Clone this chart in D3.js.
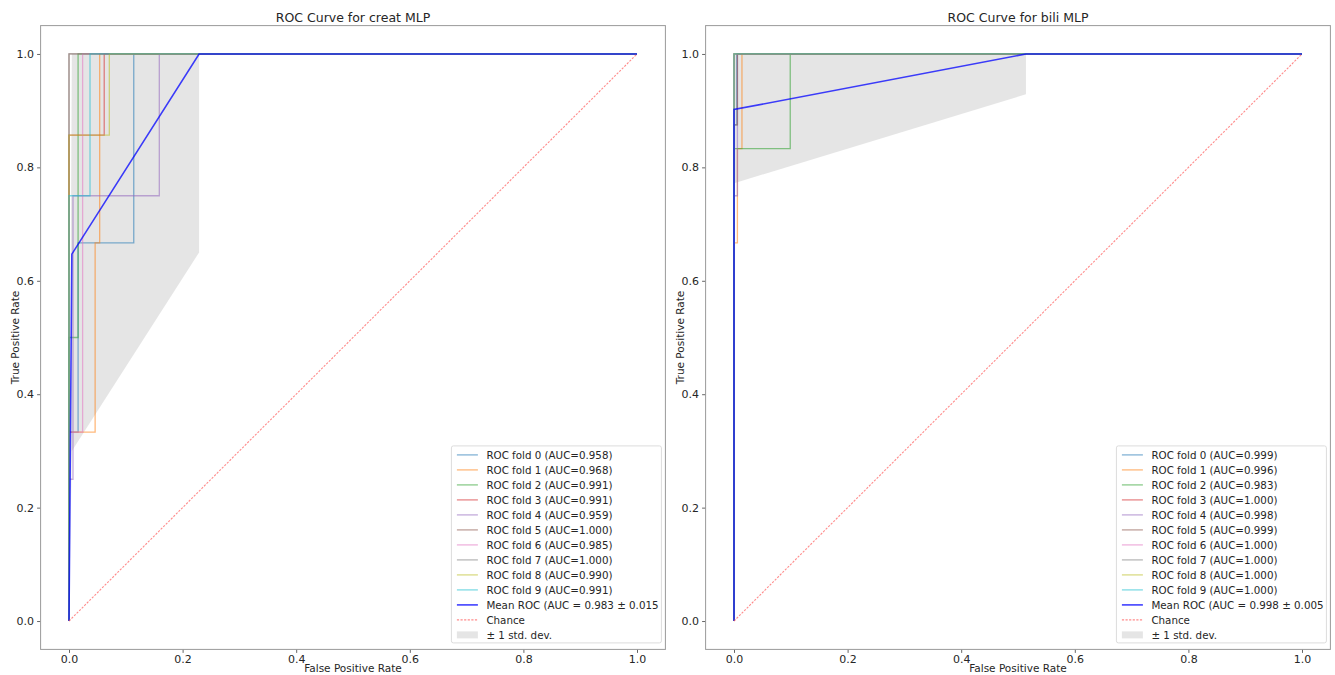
<!DOCTYPE html>
<html>
<head>
<meta charset="utf-8">
<script src="https://cdn.jsdelivr.net/npm/d3@7"></script>
<style>
body { margin: 0; background: #fff; }
text { font-family: "DejaVu Sans", sans-serif; fill: #262626; }
</style>
</head>
<body>
<svg width="1335" height="675"></svg>
<script>
// values

var foldNames = ["ROC fold 0", "ROC fold 1", "ROC fold 2", "ROC fold 3", "ROC fold 4",
                 "ROC fold 5", "ROC fold 6", "ROC fold 7", "ROC fold 8", "ROC fold 9"];
var tickValues = [0.0, 0.2, 0.4, 0.6, 0.8, 1.0];

// creat MLP
var creatAuc = ["0.958", "0.968", "0.991", "0.991", "0.959", "1.000", "0.985", "1.000", "0.990", "0.991"];
var creatFpr = [
    [0, 0, 0.016, 0.016, 0.114, 0.114, 1],
    [0, 0, 0.046, 0.046, 0.054, 0.054, 1],
    [0, 0, 0.016, 0.016, 1],
    [0, 0, 0.062, 0.062, 1],
    [0, 0, 0.007, 0.007, 0.159, 0.159, 1],
    [0, 0, 1],
    [0, 0, 0.024, 0.024, 1],
    [0, 0, 1],
    [0, 0, 0.071, 0.071, 1],
    [0, 0, 0.037, 0.037, 1]
];
var creatTpr = [
    [0, 0.333, 0.333, 0.667, 0.667, 1, 1],
    [0, 0.333, 0.333, 0.667, 0.667, 1, 1],
    [0, 0.5, 0.5, 1, 1],
    [0, 0.857, 0.857, 1, 1],
    [0, 0.25, 0.25, 0.75, 0.75, 1, 1],
    [0, 1, 1],
    [0, 0.333, 0.333, 1, 1],
    [0, 1, 1],
    [0, 0.857, 0.857, 1, 1],
    [0, 0.75, 0.75, 1, 1]
];
var creatMeanFpr = [0, 0.005, 0.229, 1];
var creatMeanTpr = [0, 0.647, 1, 1];
var creatMeanAuc = "0.983 \u00b1 0.015";
var creatBandFpr = [0, 0.005, 0.229];
var creatBandLow = [0, 0.30, 0.65];
var creatBandHigh = [0, 1, 1];

// bili MLP
var biliAuc = ["0.999", "0.996", "0.983", "1.000", "0.998", "0.999", "1.000", "1.000", "1.000", "1.000"];
var biliFpr = [
    [0, 0, 0.005, 0.005, 1],
    [0, 0, 0.006, 0.006, 0.014, 0.014, 1],
    [0, 0, 0.099, 0.099, 1],
    [0, 0, 1],
    [0, 0, 0.006, 0.006, 1],
    [0, 0, 0.006, 0.006, 1],
    [0, 0, 1],
    [0, 0, 1],
    [0, 0, 1],
    [0, 0, 1]
];
var biliTpr = [
    [0, 0.875, 0.875, 1, 1],
    [0, 0.667, 0.667, 0.833, 0.833, 1, 1],
    [0, 0.833, 0.833, 1, 1],
    [0, 1, 1],
    [0, 0.75, 0.75, 1, 1],
    [0, 0.875, 0.875, 1, 1],
    [0, 1, 1],
    [0, 1, 1],
    [0, 1, 1],
    [0, 1, 1]
];
var biliMeanFpr = [0, 0, 0.514, 1];
var biliMeanTpr = [0, 0.902, 1, 1];
var biliMeanAuc = "0.998 \u00b1 0.005";
var biliBandFpr = [0, 0.514];
var biliBandLow = [0.772, 0.929];
var biliBandHigh = [1, 1];

var svg = d3.select("svg");
var colors = d3.schemeCategory10;
var chanceColor = "#ff5a5a";

function drawPanel(p) {
    var x = d3.scaleLinear().domain([-0.05, 1.05]).range([p.left, p.left + 624.8]);
    var y = d3.scaleLinear().domain([-0.05, 1.05]).range([649.4, 25.6]);
    var g = svg.append("g");

    var line = d3.line()
        .x(function (d) { return x(d[0]); })
        .y(function (d) { return y(d[1]); });

    // std band first, it sits under the lines
    var area = d3.area()
        .x(function (d) { return x(d[0]); })
        .y0(function (d) { return y(d[1]); })
        .y1(function (d) { return y(d[2]); });
    g.append("path")
        .datum(d3.zip(p.bandFpr, p.bandLow, p.bandHigh))
        .attr("d", area)
        .attr("fill", "#cccccc")
        .attr("fill-opacity", 0.5);

    g.append("g")
        .selectAll("path")
        .data(p.fpr)
        .enter().append("path")
        .attr("d", function (d, i) { return line(d3.zip(d, p.tpr[i])); })
        .attr("fill", "none")
        .attr("stroke", function (d, i) { return colors[i]; })
        .attr("stroke-opacity", 0.55)
        .attr("stroke-width", 1.3);

    g.append("path")
        .datum(d3.zip(p.meanFpr, p.meanTpr))
        .attr("d", line)
        .attr("fill", "none")
        .attr("stroke", "#0000ff")
        .attr("stroke-opacity", 0.75)
        .attr("stroke-width", 1.6);

    g.append("path")
        .datum([[0, 0], [1, 1]])
        .attr("d", line)
        .attr("fill", "none")
        .attr("stroke", chanceColor)
        .attr("stroke-opacity", 0.7)
        .attr("stroke-width", 1.1)
        .attr("stroke-dasharray", "2.2,1.4");

    // axes
    var xAxis = g.append("g")
        .attr("transform", "translate(0,649.4)")
        .call(d3.axisBottom(x).tickValues(tickValues).tickFormat(d3.format(".1f")).tickSize(3.5).tickPadding(2));
    var yAxis = g.append("g")
        .attr("transform", "translate(" + p.left + ",0)")
        .call(d3.axisLeft(y).tickValues(tickValues).tickFormat(d3.format(".1f")).tickSize(3.5).tickPadding(3));
    [xAxis, yAxis].forEach(function (a) {
        a.select(".domain").remove();
        a.selectAll("line").attr("stroke", "#666");
        a.selectAll("text").style("font-size", "11px").attr("fill", "#262626");
    });

    g.append("rect")
        .attr("x", x(-0.05)).attr("y", y(1.05))
        .attr("width", x(1.05) - x(-0.05)).attr("height", y(-0.05) - y(1.05))
        .attr("fill", "none")
        .attr("stroke", "#9a9a9a")
        .attr("stroke-width", 1);

    g.append("text")
        .attr("x", x(0.5)).attr("y", 22)
        .attr("text-anchor", "middle")
        .style("font-size", "12.5px")
        .text(p.title);
    g.append("text")
        .attr("x", x(0.5)).attr("y", 672)
        .attr("text-anchor", "middle")
        .style("font-size", "10.5px")
        .text("False Positive Rate");
    g.append("text")
        .attr("transform", "translate(" + (p.left - 22) + "," + y(0.5) + ") rotate(-90)")
        .attr("text-anchor", "middle")
        .style("font-size", "10.5px")
        .text("True Positive Rate");

    // legend, lower right
    var lw = 210, lh = 197;
    var lx = x(1.05) - 4 - lw, ly = y(-0.05) - 6.5 - lh;
    var leg = g.append("g").attr("transform", "translate(" + lx + "," + ly + ")");
    leg.append("rect")
        .attr("width", lw).attr("height", lh)
        .attr("rx", 2)
        .attr("fill", "#fff").attr("fill-opacity", 0.85)
        .attr("stroke", "#dcdcdc");

    var items = foldNames.map(function (n, i) {
        return { label: n + " (AUC=" + p.auc[i] + ")", kind: "fold", color: colors[i] };
    });
    items.push({ label: "Mean ROC (AUC = " + p.meanAuc, kind: "mean" });
    items.push({ label: "Chance", kind: "chance" });
    items.push({ label: "\u00b1 1 std. dev.", kind: "band" });

    var row = leg.selectAll("g.item")
        .data(items)
        .enter().append("g")
        .attr("class", "item")
        .attr("transform", function (d, i) { return "translate(0," + (9 + i * 15) + ")"; });

    row.filter(function (d) { return d.kind !== "band"; })
        .append("line")
        .attr("x1", 5.5).attr("x2", 26.5)
        .attr("stroke", function (d) {
            return d.kind === "fold" ? d.color : d.kind === "mean" ? "#0000ff" : chanceColor;
        })
        .attr("stroke-opacity", function (d) {
            return d.kind === "fold" ? 0.55 : d.kind === "mean" ? 0.75 : 0.7;
        })
        .attr("stroke-width", function (d) { return d.kind === "mean" ? 1.6 : 1.3; })
        .attr("stroke-dasharray", function (d) { return d.kind === "chance" ? "2.2,1.4" : null; });

    row.filter(function (d) { return d.kind === "band"; })
        .append("rect")
        .attr("x", 5.5).attr("y", -3.5)
        .attr("width", 21).attr("height", 7)
        .attr("fill", "#cccccc").attr("fill-opacity", 0.5);

    row.append("text")
        .attr("x", 35)
        .attr("dy", "0.35em")
        .style("font-size", "10.3px")
        .text(function (d) { return d.label; });
}

drawPanel({
    left: 40.6, title: "ROC Curve for creat MLP",
    fpr: creatFpr, tpr: creatTpr, auc: creatAuc,
    meanFpr: creatMeanFpr, meanTpr: creatMeanTpr, meanAuc: creatMeanAuc,
    bandFpr: creatBandFpr, bandLow: creatBandLow, bandHigh: creatBandHigh
});
drawPanel({
    left: 705.6, title: "ROC Curve for bili MLP",
    fpr: biliFpr, tpr: biliTpr, auc: biliAuc,
    meanFpr: biliMeanFpr, meanTpr: biliMeanTpr, meanAuc: biliMeanAuc,
    bandFpr: biliBandFpr, bandLow: biliBandLow, bandHigh: biliBandHigh
});
</script>
</body>
</html>
